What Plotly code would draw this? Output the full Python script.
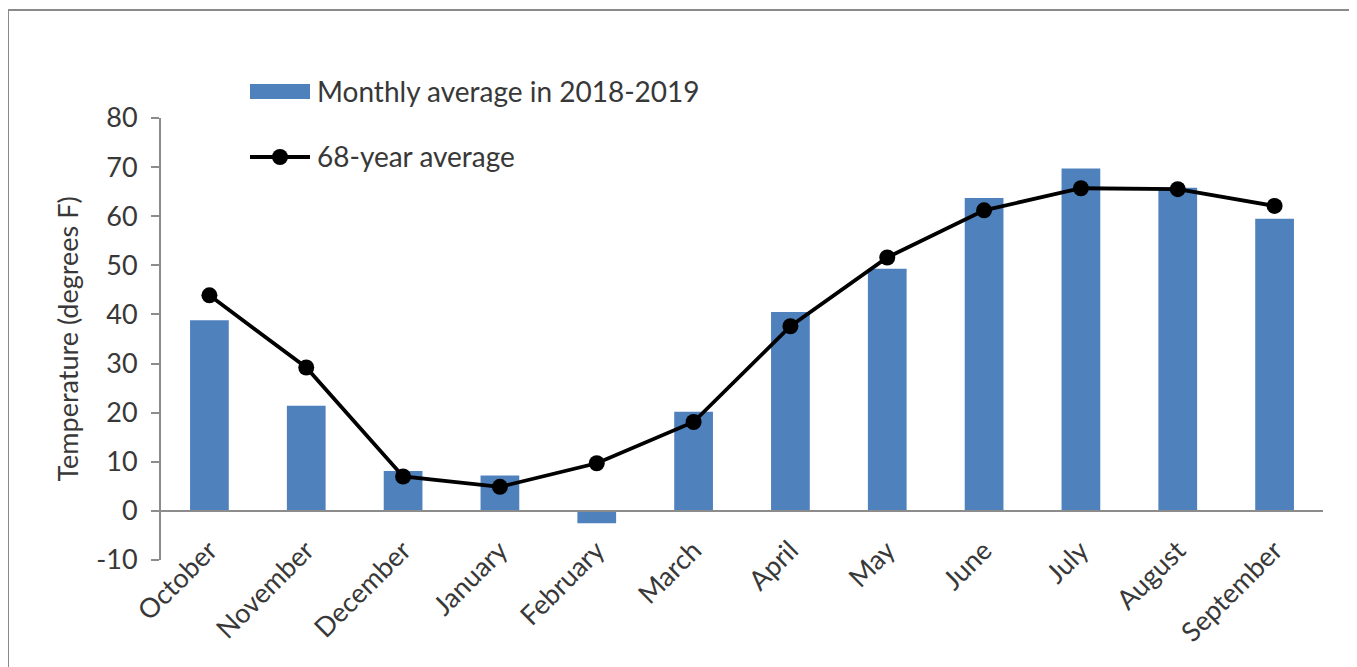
import plotly.graph_objects as go

months = ["October", "November", "December", "January", "February", "March",
          "April", "May", "June", "July", "August", "September"]
monthly_2018_2019 = [38.8, 21.4, 8.1, 7.2, -2.5, 20.2, 40.5, 49.3, 63.7, 69.7, 65.8, 59.5]
avg_68_year = [43.9, 29.2, 7.0, 4.9, 9.7, 18.1, 37.6, 51.6, 61.2, 65.7, 65.5, 62.1]
y_ticks = [-10, 0, 10, 20, 30, 40, 50, 60, 70, 80]
y_tick_text = ["-10", "0", "10", "20", "30", "40", "50", "60", "70", "80"]
bar_name = "Monthly average in 2018-2019"
line_name = "68-year average"

FONT = "Lato, 'Open Sans', sans-serif"
TXT = "#383838"
BLUE = "#4F81BD"
AXIS = "#8c8c8c"

# page has an 8px body margin; plot area target: x 161..1323, y 118..560 (screen px)
L, R, T, B = 153, 42, 110, 115
W, H = 1357, 667
PW = W - L - R
PH = H - T - B


def px_x(px):
    return (px - 8 - L) / PW


def px_y(py):
    return (H - B + 8 - py) / PH


fig = go.Figure()
fig.add_trace(go.Bar(
    x=months, y=monthly_2018_2019, name=bar_name,
    marker=dict(color=BLUE, line=dict(width=0)),
))
fig.add_trace(go.Scatter(
    x=months, y=avg_68_year, name=line_name, mode="lines+markers",
    line=dict(color="black", width=3.8), marker=dict(color="black", size=16),
))

shapes = [
    # chart border
    dict(type="rect", xref="paper", yref="paper",
         x0=px_x(8), x1=px_x(1355), y0=px_y(700), y1=px_y(10),
         line=dict(color="#8a8a8a", width=2), fillcolor="rgba(0,0,0,0)", layer="below"),
    # legend: bar swatch
    dict(type="rect", xref="paper", yref="paper",
         x0=px_x(250), x1=px_x(310), y0=px_y(99), y1=px_y(84),
         line=dict(width=0), fillcolor=BLUE),
    # legend: line swatch
    dict(type="line", xref="paper", yref="paper",
         x0=px_x(250), x1=px_x(310), y0=px_y(157), y1=px_y(157),
         line=dict(color="black", width=3.8)),
    dict(type="circle", xref="paper", yref="paper",
         x0=px_x(272), x1=px_x(288), y0=px_y(165), y1=px_y(149),
         line=dict(width=0), fillcolor="black"),
]

annotations = [
    dict(text=bar_name, xref="paper", yref="paper", x=px_x(315), y=px_y(91),
         xanchor="left", yanchor="middle", showarrow=False,
         font=dict(size=28, color=TXT)),
    dict(text=line_name, xref="paper", yref="paper", x=px_x(315), y=px_y(156),
         xanchor="left", yanchor="middle", showarrow=False,
         font=dict(size=28, color=TXT)),
]

fig.update_layout(
    width=W, height=H,
    margin=dict(l=L, r=R, t=T, b=B),
    paper_bgcolor="white", plot_bgcolor="white",
    font=dict(family=FONT, size=27, color=TXT),
    bargap=0.6,
    showlegend=False,
    xaxis=dict(
        range=[-0.5, 11.5], anchor="free", position=10 / 90, showline=True,
        linecolor=AXIS, linewidth=2, ticks="", tickangle=-45, showgrid=False,
        ticklabelstandoff=12,
        tickfont=dict(size=27, color=TXT), automargin=False,
    ),
    yaxis=dict(
        range=[-10, 80], tickvals=y_ticks, ticktext=y_tick_text, showline=True,
        linecolor=AXIS, linewidth=2, ticks="outside", ticklen=8, tickcolor=AXIS,
        tickwidth=2, ticklabelstandoff=8,
        showgrid=False, zeroline=False, tickfont=dict(size=27, color=TXT),
        title=dict(text="Temperature (degrees F)", font=dict(size=27, color=TXT), standoff=10),
        automargin=False,
    ),
    shapes=shapes,
    annotations=annotations,
)

fig.write_html("out.html")
